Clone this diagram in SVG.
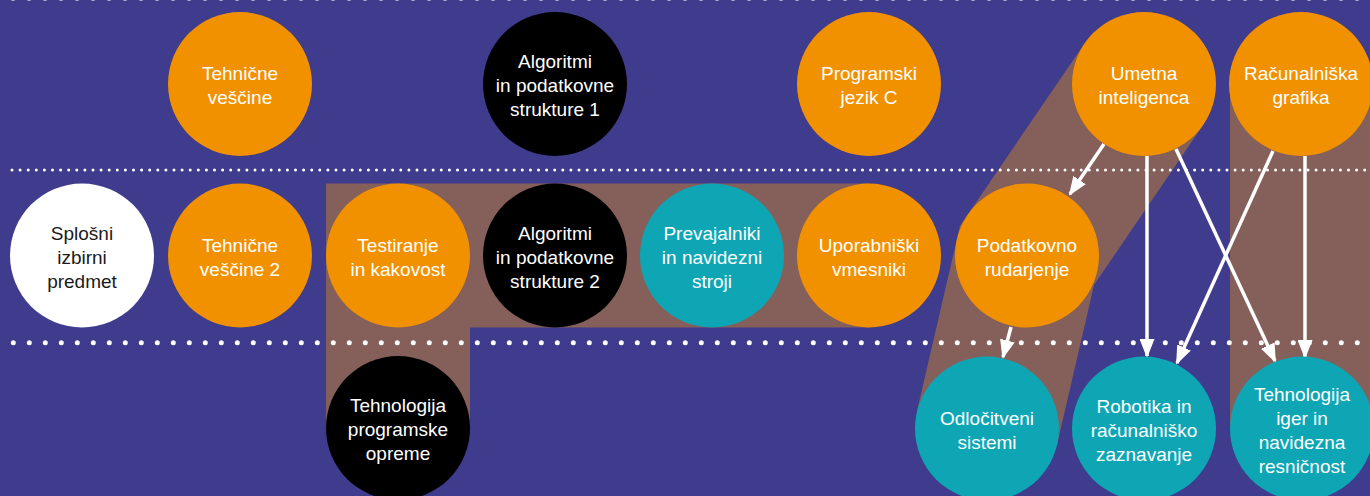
<svg xmlns="http://www.w3.org/2000/svg" width="1370" height="496" viewBox="0 0 1370 496">
<style>
.bg{fill:#3f3b8d}
.band{fill:none;stroke:#855f5a;stroke-width:144;stroke-linejoin:miter;stroke-miterlimit:10}
.orange{fill:#f29100}
.black{fill:#000000}
.teal{fill:#0ea6b4}
.white{fill:#ffffff}
text{font-family:"Liberation Sans",Arial,sans-serif;font-size:19px;fill:#ffffff;text-anchor:middle}
text.dark{fill:#1a1a1a}
.arrow{stroke:#ffffff;stroke-width:3.5;fill:none;marker-end:url(#ah)}
.dotsS{stroke:#ffffff;stroke-width:3;stroke-linecap:round;stroke-dasharray:0 8.1;fill:none}
.dotsL{stroke:#ffffff;stroke-width:5;stroke-linecap:round;stroke-dasharray:0 16;fill:none}
</style>
<defs>
<marker id="ah" viewBox="0 0 19 15" refX="17" refY="7.5" markerWidth="19" markerHeight="15" markerUnits="userSpaceOnUse" orient="auto">
<path d="M0,0 L19,7.5 L0,15 z" fill="#ffffff"/>
</marker>
</defs>
<rect class="bg" x="0" y="0" width="1370" height="496"/>
<g id="bands">
<polyline class="band" points="398,428 398,255.5 869,255.5"/>
<polyline class="band" points="1144,84 1027,255.5 987,428"/>
<line class="band" x1="1302" y1="84" x2="1302" y2="428"/>
</g>
<g id="dividers">
<line class="dotsL" x1="13" y1="-1.5" x2="1365" y2="-1.5" opacity="0.6"/>
<line class="dotsS" x1="12" y1="170" x2="1365" y2="170"/>
<line class="dotsL" x1="13.3" y1="342.7" x2="1365" y2="342.7"/>
</g>
<g id="connectors">
<line class="arrow" x1="1104" y1="144" x2="1070" y2="194"/>
<line class="arrow" x1="1147" y1="156" x2="1147" y2="356"/>
<line class="arrow" x1="1176" y1="149" x2="1275" y2="361"/>
<line class="arrow" x1="1273" y1="151" x2="1177" y2="363"/>
<line class="arrow" x1="1305" y1="156" x2="1305" y2="357"/>
<line class="arrow" x1="1011" y1="327" x2="1003" y2="357"/>
</g>
<g id="tehnicne-vescine"><circle class="orange" cx="240" cy="84" r="72"/><text x="240" y="80">Tehnične</text><text x="240" y="104">veščine</text></g>
<g id="algoritmi-1"><circle class="black" cx="555" cy="84" r="72"/><text x="555" y="68">Algoritmi</text><text x="555" y="92">in podatkovne</text><text x="555" y="116">strukture 1</text></g>
<g id="programski-jezik-c"><circle class="orange" cx="869" cy="84" r="72"/><text x="869" y="80">Programski</text><text x="869" y="104">jezik C</text></g>
<g id="umetna-inteligenca"><circle class="orange" cx="1144" cy="84" r="72"/><text x="1144" y="80">Umetna</text><text x="1144" y="104">inteligenca</text></g>
<g id="racunalniska-grafika"><circle class="orange" cx="1301" cy="84" r="72"/><text x="1301" y="80">Računalniška</text><text x="1301" y="104">grafika</text></g>
<g id="splosni-izbirni"><circle class="white" cx="82" cy="255.5" r="72"/><text class="dark" x="82" y="239.5">Splošni</text><text class="dark" x="82" y="263.5">izbirni</text><text class="dark" x="82" y="287.5">predmet</text></g>
<g id="tehnicne-vescine-2"><circle class="orange" cx="240" cy="255.5" r="72"/><text x="240" y="251.5">Tehnične</text><text x="240" y="275.5">veščine 2</text></g>
<g id="testiranje"><circle class="orange" cx="398" cy="255.5" r="72"/><text x="398" y="251.5">Testiranje</text><text x="398" y="275.5">in kakovost</text></g>
<g id="algoritmi-2"><circle class="black" cx="555" cy="255.5" r="72"/><text x="555" y="239.5">Algoritmi</text><text x="555" y="263.5">in podatkovne</text><text x="555" y="287.5">strukture 2</text></g>
<g id="prevajalniki"><circle class="teal" cx="712" cy="255.5" r="72"/><text x="712" y="239.5">Prevajalniki</text><text x="712" y="263.5">in navidezni</text><text x="712" y="287.5">stroji</text></g>
<g id="uporabniski-vmesniki"><circle class="orange" cx="869" cy="255.5" r="72"/><text x="869" y="251.5">Uporabniški</text><text x="869" y="275.5">vmesniki</text></g>
<g id="podatkovno-rudarjenje"><circle class="orange" cx="1027" cy="255.5" r="72"/><text x="1027" y="251.5">Podatkovno</text><text x="1027" y="275.5">rudarjenje</text></g>
<g id="tehnologija-programske-opreme"><circle class="black" cx="398" cy="428" r="72"/><text x="398" y="412">Tehnologija</text><text x="398" y="436">programske</text><text x="398" y="460">opreme</text></g>
<g id="odlocitveni-sistemi"><circle class="teal" cx="987" cy="428.5" r="72"/><text x="987" y="424.5">Odločitveni</text><text x="987" y="448.5">sistemi</text></g>
<g id="robotika"><circle class="teal" cx="1144" cy="428.5" r="72"/><text x="1144" y="412.5">Robotika in</text><text x="1144" y="436.5">računalniško</text><text x="1144" y="460.5">zaznavanje</text></g>
<g id="tehnologija-iger"><circle class="teal" cx="1302" cy="428.5" r="72"/><text x="1302" y="400.5">Tehnologija</text><text x="1302" y="424.5">iger in</text><text x="1302" y="448.5">navidezna</text><text x="1302" y="472.5">resničnost</text></g>
</svg>
